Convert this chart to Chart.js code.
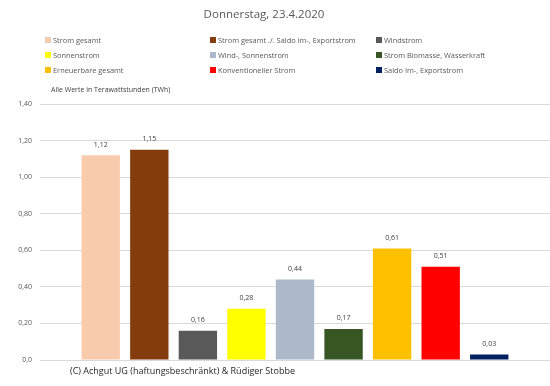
<!DOCTYPE html>
<html>
<head>
    <title>Donnerstag, 23.4.2020</title>
    <script src="https://cdn.jsdelivr.net/npm/chart.js"></script>
    <style>
        body { margin: 0; background: #fff; }
        #wrap { position: relative; width: 550px; height: 386px; }
    </style>
</head>
<body>
<div id="wrap">
    <canvas id="chart" width="550" height="386"></canvas>
</div>
<script>
    // Data
    const seriesNames = [
        'Strom gesamt',
        'Strom gesamt ./. Saldo Im-, Exportstrom',
        'Windstrom',
        'Sonnenstrom',
        'Wind-, Sonnenstrom',
        'Strom Biomasse, Wasserkraft',
        'Erneuerbare gesamt',
        'Konventioneller Strom',
        'Saldo Im-, Exportstrom'
    ];
    const seriesValues = [1.12, 1.15, 0.16, 0.28, 0.44, 0.17, 0.61, 0.51, 0.03];
    const seriesColors = ['#F8CBAD', '#843C0C', '#595959', '#FFFF00', '#ADB9CA', '#375623', '#FFC000', '#FF0000', '#002060'];
    const yTicks = [0, 0.2, 0.4, 0.6, 0.8, 1.0, 1.2, 1.4];

    const FONT = "'Open Sans', sans-serif";

    function fmt(v, digits) {
        return v.toFixed(digits).replace('.', ',');
    }

    // draws title, legend grid, value labels and footer
    const decorations = {
        id: 'decorations',
        afterDatasetsDraw(chart) {
            const ctx = chart.ctx;
            ctx.save();

            // value labels above bars
            ctx.font = '7px ' + FONT;
            ctx.fillStyle = '#404040';
            ctx.textAlign = 'center';
            ctx.textBaseline = 'bottom';
            chart.data.datasets.forEach((ds, i) => {
                const bar = chart.getDatasetMeta(i).data[0];
                ctx.fillText(fmt(ds.data[0], 2), bar.x, bar.y - 7);
            });

            // title
            ctx.font = '11.5px ' + FONT;
            ctx.fillStyle = '#595959';
            ctx.textBaseline = 'middle';
            ctx.fillText('Donnerstag, 23.4.2020', 264, 15);

            // legend, three columns
            ctx.font = '7.4px ' + FONT;
            ctx.textAlign = 'left';
            const colX = [45, 210, 376];
            const rowY = [40, 55, 70];
            chart.data.datasets.forEach((ds, i) => {
                const x = colX[i % 3];
                const y = rowY[Math.floor(i / 3)];
                ctx.fillStyle = ds.backgroundColor;
                ctx.fillRect(x, y - 3, 6, 6);
                ctx.fillStyle = '#595959';
                ctx.fillText(ds.label, x + 8, y + 0.5);
            });

            ctx.font = '7px ' + FONT;
            ctx.fillStyle = '#404040';
            ctx.fillText('Alle Werte in Terawattstunden (TWh)', 51, 90);

            // footer
            ctx.font = '9px ' + FONT;
            ctx.fillStyle = '#262626';
            ctx.fillText('(C) Achgut UG (haftungsbeschränkt) & Rüdiger Stobbe', 70, 371);

            ctx.restore();
        }
    };

    new Chart(document.getElementById('chart'), {
        type: 'bar',
        data: {
            labels: [''],
            datasets: seriesNames.map((name, i) => ({
                label: name,
                data: [seriesValues[i]],
                backgroundColor: seriesColors[i],
                borderWidth: 0,
                categoryPercentage: 0.857,
                barPercentage: 0.79
            }))
        },
        options: {
            responsive: false,
            animation: false,
            layout: { padding: { top: 104, bottom: 26, left: 0, right: 0 } },
            plugins: {
                legend: { display: false },
                title: { display: false },
                tooltip: { enabled: false }
            },
            scales: {
                x: { display: false },
                y: {
                    min: 0,
                    max: 1.4,
                    afterBuildTicks(axis) {
                        axis.ticks = yTicks.map(v => ({ value: v }));
                    },
                    afterFit(axis) { axis.width = 40; },
                    border: { display: false },
                    grid: { color: '#d9d9d9', drawTicks: false },
                    ticks: {
                        padding: 8,
                        color: '#595959',
                        font: { family: FONT, size: 7 },
                        callback: v => v === 0 ? '0,0' : fmt(v, 2)
                    }
                }
            }
        },
        plugins: [decorations]
    });
</script>
</body>
</html>
